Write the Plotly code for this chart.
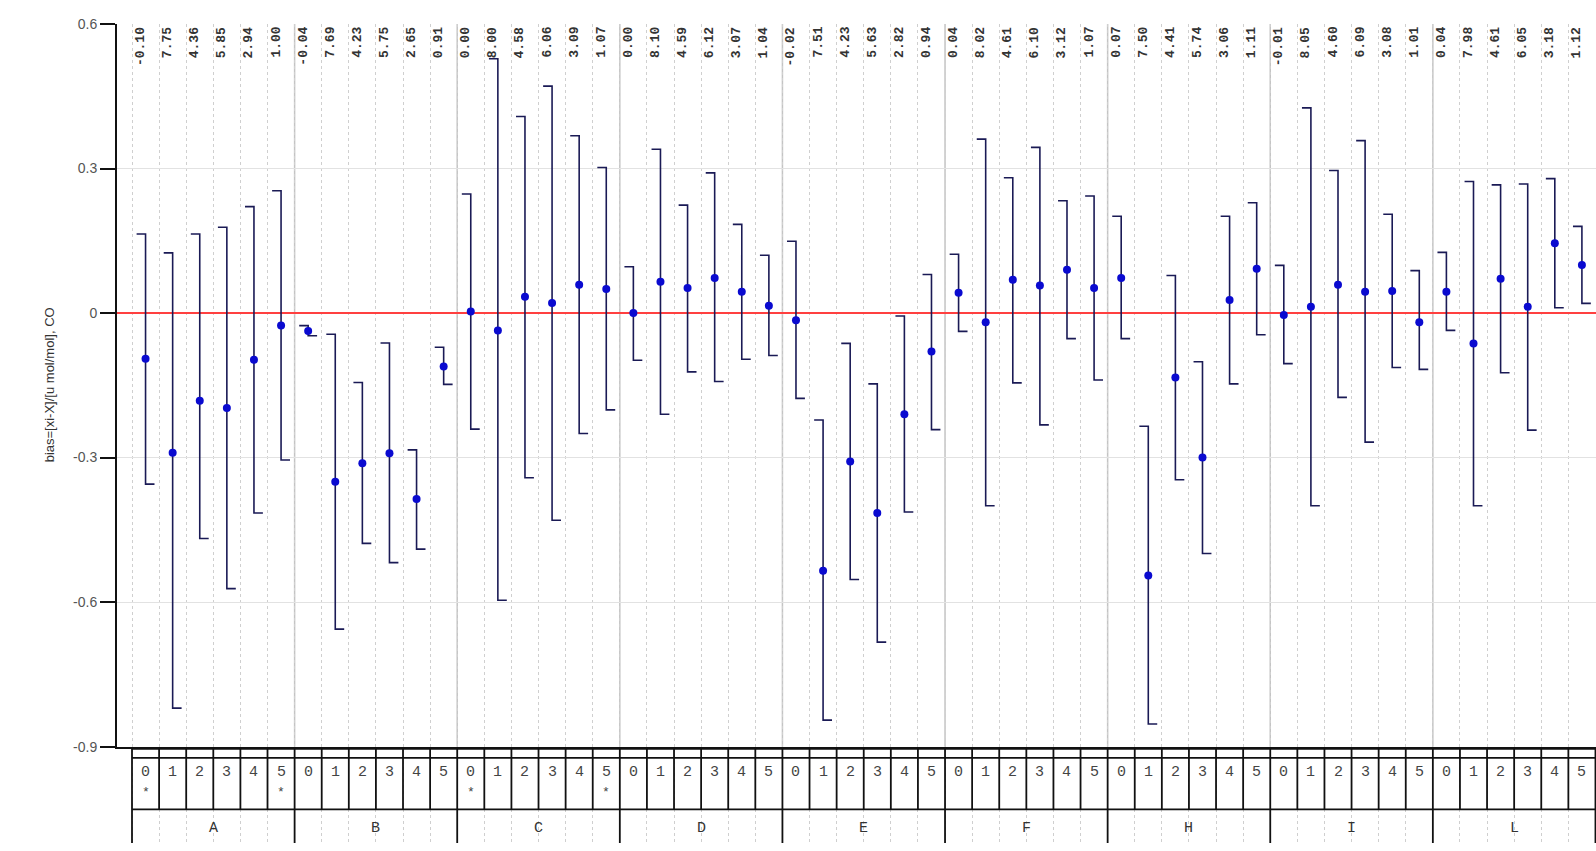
import plotly.graph_objects as go

# ---------------- data ----------------
groups = ['A', 'B', 'C', 'D', 'E', 'F', 'H', 'I', 'L']
levels = ['0', '1', '2', '3', '4', '5']

bias = [
    -0.095, -0.290, -0.182, -0.197, -0.097, -0.026,   # A
    -0.037, -0.350, -0.312, -0.291, -0.386, -0.111,   # B
     0.003, -0.036,  0.034,  0.021,  0.059,  0.050,   # C
     0.000,  0.065,  0.052,  0.073,  0.044,  0.015,   # D
    -0.015, -0.535, -0.308, -0.415, -0.210, -0.080,   # E
     0.042, -0.019,  0.069,  0.057,  0.090,  0.052,   # F
     0.073, -0.545, -0.134, -0.300,  0.027,  0.092,   # H
    -0.004,  0.013,  0.059,  0.044,  0.046, -0.019,   # I
     0.044, -0.063,  0.071,  0.013,  0.145,  0.100,   # L
]
upper = [
     0.164,  0.125,  0.164,  0.178,  0.221,  0.254,
    -0.026, -0.044, -0.144, -0.062, -0.284, -0.071,
     0.247,  0.528,  0.408,  0.471,  0.368,  0.302,
     0.096,  0.340,  0.224,  0.291,  0.184,  0.120,
     0.149, -0.222, -0.063, -0.147, -0.006,  0.080,
     0.122,  0.361,  0.281,  0.344,  0.233,  0.243,
     0.201, -0.235,  0.078, -0.101,  0.201,  0.229,
     0.099,  0.426,  0.296,  0.358,  0.205,  0.088,
     0.126,  0.273,  0.266,  0.268,  0.279,  0.180,
]
lower = [
    -0.355, -0.820, -0.468, -0.572, -0.415, -0.305,
    -0.047, -0.656, -0.478, -0.518, -0.490, -0.148,
    -0.241, -0.596, -0.342, -0.430, -0.250, -0.201,
    -0.098, -0.210, -0.122, -0.142, -0.096, -0.088,
    -0.177, -0.845, -0.553, -0.683, -0.413, -0.242,
    -0.038, -0.400, -0.145, -0.232, -0.053, -0.139,
    -0.053, -0.853, -0.346, -0.499, -0.147, -0.045,
    -0.105, -0.400, -0.175, -0.268, -0.113, -0.117,
    -0.036, -0.400, -0.124, -0.243,  0.011,  0.020,
]
measured = [
    -0.10, 7.75, 4.36, 5.85, 2.94, 1.00,
    -0.04, 7.69, 4.23, 5.75, 2.65, 0.91,
     0.00, 8.00, 4.58, 6.06, 3.09, 1.07,
     0.00, 8.10, 4.59, 6.12, 3.07, 1.04,
    -0.02, 7.51, 4.23, 5.63, 2.82, 0.94,
     0.04, 8.02, 4.61, 6.10, 3.12, 1.07,
     0.07, 7.50, 4.41, 5.74, 3.06, 1.11,
    -0.01, 8.05, 4.60, 6.09, 3.08, 1.01,
     0.04, 7.98, 4.61, 6.05, 3.18, 1.12,
]
flagged = [('A', '0'), ('A', '5'), ('C', '0'), ('C', '5')]

y_ticks = [-0.9, -0.6, -0.3, 0, 0.3, 0.6]
y_ticktext = ['-0.9', '-0.6', '-0.3', '0', '0.3', '0.6']
y_title = 'bias=[xi-X]/[u mol/mol], CO'

# ---------------- layout helpers ----------------
n_lv = len(levels)
n = len(groups) * n_lv
xs = list(range(n))
CAP = 0.33
MONO = 'Liberation Mono, Courier New, monospace'
SANS = 'Liberation Sans, Arial, sans-serif'

fig = go.Figure()

# error bars: upper cap to the left, lower cap to the right
ex, ey = [], []
for x, hi, lo in zip(xs, upper, lower):
    ex += [x - CAP, x, x, x + CAP, None]
    ey += [hi, hi, lo, lo, None]
fig.add_trace(go.Scatter(x=ex, y=ey, mode='lines', hoverinfo='skip',
                         line=dict(color='#1a1a55', width=1.6), showlegend=False))
fig.add_trace(go.Scatter(x=xs, y=bias, mode='markers', showlegend=False,
                         marker=dict(color='#0a0ad0', size=8)))

shapes = []
# group separators in the plot area (solid grey)
for g in range(1, len(groups)):
    b = g * n_lv - 0.5
    shapes.append(dict(type='line', xref='x', yref='y domain', x0=b, x1=b, y0=0, y1=1,
                       line=dict(color='#c4c4c4', width=1.5), layer='below'))

# ---------------- table below ----------------
TOP, MID, ROW, BOT = 95, 86, 34, 0
left, right = -0.5, n - 0.5
lw = dict(color='#111', width=1.8)
for yv in (TOP, MID, ROW):
    shapes.append(dict(type='line', xref='x', yref='y2', x0=left, x1=right, y0=yv, y1=yv, line=lw))
for i in range(n + 1):
    b = i - 0.5
    is_grp = (i % n_lv == 0)
    shapes.append(dict(type='line', xref='x', yref='y2', x0=b, x1=b,
                       y0=(BOT if is_grp else ROW), y1=TOP, line=lw))

ann = []
for i, (g, lv) in enumerate([(g, lv) for g in groups for lv in levels]):
    ann.append(dict(x=i, y=71, xref='x', yref='y2', text=lv, showarrow=False,
                    font=dict(family=MONO, size=15, color='#444')))
    if (g, lv) in flagged:
        ann.append(dict(x=i, y=51, xref='x', yref='y2', text='*', showarrow=False,
                        font=dict(family=MONO, size=13, color='#444')))
    ann.append(dict(x=i, y=1, xref='x', yref='y domain', yanchor='top', yshift=-1,
                    xshift=-5, text=f'{measured[i]:.2f}', textangle=-90, showarrow=False,
                    font=dict(family=MONO, size=13, color='#333', weight='bold')))
for k, g in enumerate(groups):
    ann.append(dict(x=k * n_lv + (n_lv - 1) / 2, y=15, xref='x', yref='y2', text=g,
                    showarrow=False, font=dict(family=MONO, size=15, color='#333')))
ann.append(dict(x=0, xref='paper', xanchor='center', xshift=-68, y=0.5, yref='y domain',
                text=y_title, textangle=-90, showarrow=False,
                font=dict(family=SANS, size=13, color='#333')))

H = 851
top_m = 24
plot_h = H - top_m
main_bottom = (H - 753.7) / plot_h
table_top = (H - 756) / plot_h

fig.update_layout(
    width=1596, height=H,
    margin=dict(l=117, r=0, t=top_m, b=0),
    paper_bgcolor='white', plot_bgcolor='white',
    shapes=shapes, annotations=ann,
    xaxis=dict(range=[-1.0535, n - 0.48], tickvals=[i - 0.5 for i in range(n + 1)],
               showticklabels=False, ticks='', showgrid=True, gridcolor='#cfcfcf',
               griddash='dot', gridwidth=1, zeroline=False, showline=True,
               linecolor='#111', linewidth=2, anchor='y'),
    yaxis=dict(domain=[main_bottom, 1], range=[-0.9, 0.6], tickvals=y_ticks,
               ticktext=y_ticktext,
               ticks='outside', ticklen=15, tickwidth=1.5, tickcolor='#111',
               showline=True, linecolor='#111', linewidth=2,
               showgrid=True, gridcolor='#e2e2e2', gridwidth=1,
               zeroline=True, zerolinecolor='#ff4040', zerolinewidth=2,
               tickfont=dict(family=SANS, size=14, color='#555'),
               anchor='x'),
    yaxis2=dict(domain=[0, table_top], range=[0, 95], visible=False, anchor='x'),
)

fig.write_html('out.html')
